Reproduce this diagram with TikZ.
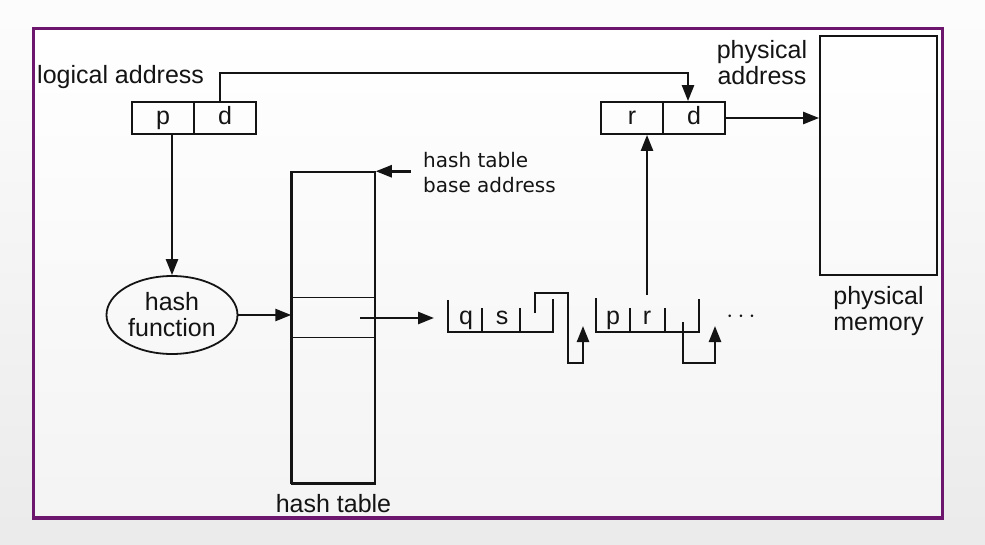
\documentclass[tikz,border=0pt]{standalone}
\usepackage{fontspec}
\setmainfont{Liberation Sans}
\newfontfamily\dejavu{DejaVu Sans}
\usepackage{tikz}
\usetikzlibrary{positioning, arrows.meta, shapes.geometric, calc}
\definecolor{frame}{RGB}{108,22,110}
\definecolor{ink}{RGB}{20,20,20}

\begin{document}
\begin{tikzpicture}[x=1pt, y=-1pt,
  label/.style={font=\fontsize{25}{26}\selectfont, text=ink, align=center, inner sep=0pt},
  cell/.style={draw=ink, line width=1.8pt, minimum width=62pt, minimum height=32pt,
               inner sep=0pt, text height=18pt, text depth=5pt,
               font=\fontsize{25}{26}\selectfont, text=ink},
  letter/.style={font=\fontsize{25}{26}\selectfont, inner sep=0pt, text height=18pt,
                 text depth=5pt, text=ink},
  arr/.style={draw=ink, line width=2.5pt, -{Triangle[length=16pt, width=12pt]}},
  wire/.style={draw=ink, line width=2.5pt},
]
  % Background and frame
  \shade[top color=gray!2, bottom color=gray!16] (0,0) rectangle (985,544);
  \shade[top color=white, bottom color=gray!9] (33.5,28.5) rectangle (942.5,518);
  \draw[frame, line width=3.5pt] (33.5,28.5) rectangle (942.5,518);
  \useasboundingbox (0,0) rectangle (985,544);

  % Addresses
  \node[label, anchor=base west] (la) at (37,83) {logical address};
  \node[cell] (lp) at (163,118) {p};
  \node[cell] (ld) at (225,118) {d};
  \node[cell] (pr) at (632,118) {r};
  \node[cell] (pd) at (694,118) {d};
  \node[label] (pa) at (762,63) {physical\\address};

  % Physical memory
  \node[draw=ink, line width=1.8pt, minimum width=117pt, minimum height=239pt] (pm) at (878.5,155.5) {};
  \node[label, below=10pt of pm] (pml) {physical\\memory};

  % Hash function and table
  \node[ellipse, draw=ink, line width=1.8pt, minimum width=131pt, minimum height=78pt, label] (hf) at (172,315) {hash\\function};
  \node[draw=ink, line width=1.5pt, minimum width=83pt, minimum height=311pt, inner sep=0pt] (ht) at (333.5,327.5) {};
  \draw[ink, line width=3pt] (ht.north west) -- (ht.south west);
  \draw[ink, line width=2.5pt] (ht.south west) -- (ht.south east);
  \draw[ink, line width=1.3pt] ($(ht.north west)+(0,126)$) -- ($(ht.north east)+(0,126)$);
  \draw[ink, line width=1.3pt] ($(ht.north west)+(0,166)$) -- ($(ht.north east)+(0,166)$);
  \node[label, below=10pt of ht] (htl) {hash table};
  \node[font=\dejavu\fontsize{20}{25}\selectfont, align=left, anchor=west, text=ink, inner sep=0pt] (hba) at (423,172.5) {hash table\\base address};

  % Chain of entries
  \coordinate (slot) at (360,318);
  \coordinate (chain) at (434,318);
  \node[letter] (eq) at (466,318) {q};
  \node[letter] (es) at (502,318) {s};
  \node[letter] (ep) at (613,318) {p};
  \node[letter] (er) at (647,318) {r};
  \node[font=\fontsize{36}{36}\selectfont, inner sep=0pt, text=ink] (dots) at (741,317) {$\cdots$};
  \draw[wire] (448,300) -- (448,332) -- (553,332) -- (553,299);
  \draw[wire] (482,308) -- (482,332) (520,308) -- (520,332);
  \draw[arr] (535,313) -- (535,293) -- (568,293) -- (568,363) -- (583,363) -- (583,326);
  \draw[wire] (596,298) -- (596,332) -- (699,332) -- (699,299);
  \draw[wire] (630,308) -- (630,332) (665,308) -- (665,332);
  \draw[arr] (683,322) -- (683,363) -- (715,363) -- (715,326);

  % Connectors
  \draw[arr] ([xshift=-5pt]ld.north) -- ++(0,-28) -| ([xshift=-6pt]pd.north);
  \draw[arr] (pd.east) -- (pm.west |- pd.east);
  \draw[arr] (hf.north |- lp.south) -- (hf.north);
  \draw[arr] (hf.east) -- (ht.west |- hf.east);
  \draw[arr] ([xshift=35pt]ht.north east) -- (ht.north east);
  \draw[arr] (slot) -- (chain);
  \draw[arr] (er.center |- 0,295) -- (er.north |- pr.south);
\end{tikzpicture}
\end{document}
